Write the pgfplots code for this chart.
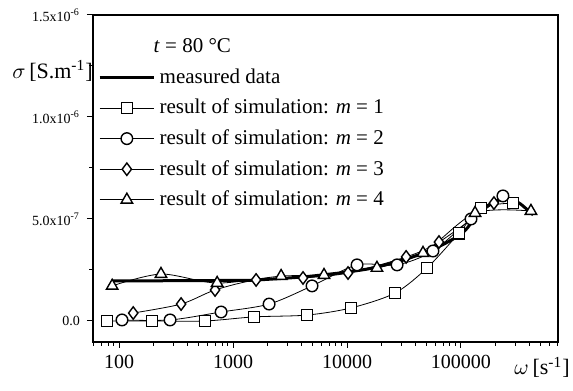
\documentclass[border=0pt]{standalone}
\usepackage{pgfplots}
\pgfplotsset{compat=1.18}
\usepackage{fontspec}
\setmainfont{Liberation Serif}
\begin{document}
\begin{tikzpicture}
\begin{axis}[
  scale only axis, width=232.5pt, height=163.5pt,
  xmode=log, xmin=59, xmax=710000,
  ymin=-1.03, ymax=15,
  axis line style={line width=0.6pt},
  tick align=outside, xtick pos=bottom, ytick pos=left,
  xtick={100,1000,10000,100000}, xticklabels={100,1000,10000,100000},
  minor xtick={60,70,80,90,200,300,400,500,600,700,800,900,2000,3000,4000,5000,6000,7000,8000,9000,20000,30000,40000,50000,60000,70000,80000,90000,200000,300000,400000,500000,600000,700000},
  ytick={0,5,10,15},
  yticklabels={0.0,5.0x10\textsuperscript{-7},1.0x10\textsuperscript{-6},1.5x10\textsuperscript{-6}},
  minor ytick={2.5,7.5,12.5},
  major tick length=3pt, minor tick length=1.8pt,
  every tick/.style={line width=0.5pt, black},
  xticklabel style={font=\fontsize{10}{12}\selectfont},
  yticklabel style={font=\fontsize{7}{8}\selectfont},
  clip=false,
  legend style={draw=none, fill=none, at={(rel axis cs:0.01,0.94)}, anchor=north west,
    font=\fontsize{10.5}{12.6}\selectfont, row sep=2.4pt, inner sep=0pt},
  legend cell align=left,
  legend image code/.code={\draw[mark repeat=2,mark phase=2] plot coordinates {(0cm,0cm) (0.48cm,0cm) (0.96cm,0cm)};},
  every axis plot/.append style={black},
]
\addlegendimage{empty legend}
\addlegendentry{\hspace{-3pt}\textit{t} = 80 °C}
\addlegendimage{line width=1.5pt}
\addlegendentry{measured data}
\addlegendimage{line width=0.4pt, mark=square*, mark size=2.8pt, mark options={fill=white, line width=0.7pt}}
\addlegendentry{result of simulation: \textit{m} = 1}
\addlegendimage{line width=0.4pt, mark=*, mark size=2.9pt, mark options={fill=white, line width=0.7pt}}
\addlegendentry{result of simulation: \textit{m} = 2}
\addlegendimage{line width=0.4pt, mark=diamond*, mark size=3.1pt, mark options={fill=white, line width=0.7pt}}
\addlegendentry{result of simulation: \textit{m} = 3}
\addlegendimage{line width=0.4pt, mark=triangle*, mark size=3.3pt, mark options={fill=white, line width=0.7pt}}
\addlegendentry{result of simulation: \textit{m} = 4}

% m = 1
\addplot[forget plot, line width=0.4pt, smooth, mark=square*, mark size=2.8pt, mark options={fill=white, line width=0.7pt}]
coordinates {(78.5,0) (195,0) (568,0) (1528,0.2) (4455,0.29) (10840,0.64) (26370,1.37) (50350,2.6) (95900,4.3) (149600,5.54) (285700,5.78)};
% m = 2
\addplot[forget plot, line width=0.4pt, smooth, mark=*, mark size=2.9pt, mark options={fill=white, line width=0.7pt}]
coordinates {(106,0.05) (280,0.05) (785,0.44) (2070,0.83) (4930,1.72) (12240,2.75) (27480,2.75) (56760,3.43) (122400,5.0) (233400,6.13)};
% m = 3
\addplot[forget plot, line width=0.4pt, smooth, mark=diamond*, mark size=3.1pt, mark options={fill=white, line width=0.7pt}]
coordinates {(133,0.39) (350,0.83) (695,1.52) (1592,2.01) (4110,2.11) (10200,2.35) (33000,3.14) (64100,3.87) (194500,5.78)};
% m = 4
\addplot[forget plot, line width=0.4pt, smooth, mark=triangle*, mark size=3.3pt, mark options={fill=white, line width=0.7pt}]
coordinates {(86.9,1.72) (233,2.3) (725,1.86) (2640,2.2) (6280,2.25) (18300,2.6) (46400,3.33) (132800,5.29) (411000,5.39)};
% measured
\addplot[forget plot, line width=1.5pt, smooth]
coordinates {(87,1.96) (200,1.97) (500,1.98) (1000,1.99) (1500,2.0) (3900,2.15) (7100,2.3) (10000,2.4) (16800,2.6) (33500,3.05) (61500,3.6) (105000,4.36) (148000,5.4) (209000,5.9) (270000,5.98) (330000,5.75) (430000,5.2)};

\node[anchor=base east, inner sep=0pt, font=\fontsize{11}{13}\selectfont] at (rel axis cs:0,0.807) {$\sigma$\,[S.m\textsuperscript{-1}]};
\node[anchor=base east, inner sep=0pt, font=\fontsize{11}{13}\selectfont] at ([xshift=6pt,yshift=-16.5pt]rel axis cs:1,0) {$\omega$\,[s\textsuperscript{-1}]};
\coordinate (BL) at (rel axis cs:0,0);
\coordinate (TR) at (rel axis cs:1,1);
\end{axis}
\pgfresetboundingbox
\path ([xshift=-46.5pt,yshift=-24.5pt]BL) rectangle ([xshift=7.5pt,yshift=7.5pt]TR);
\end{tikzpicture}
\end{document}
